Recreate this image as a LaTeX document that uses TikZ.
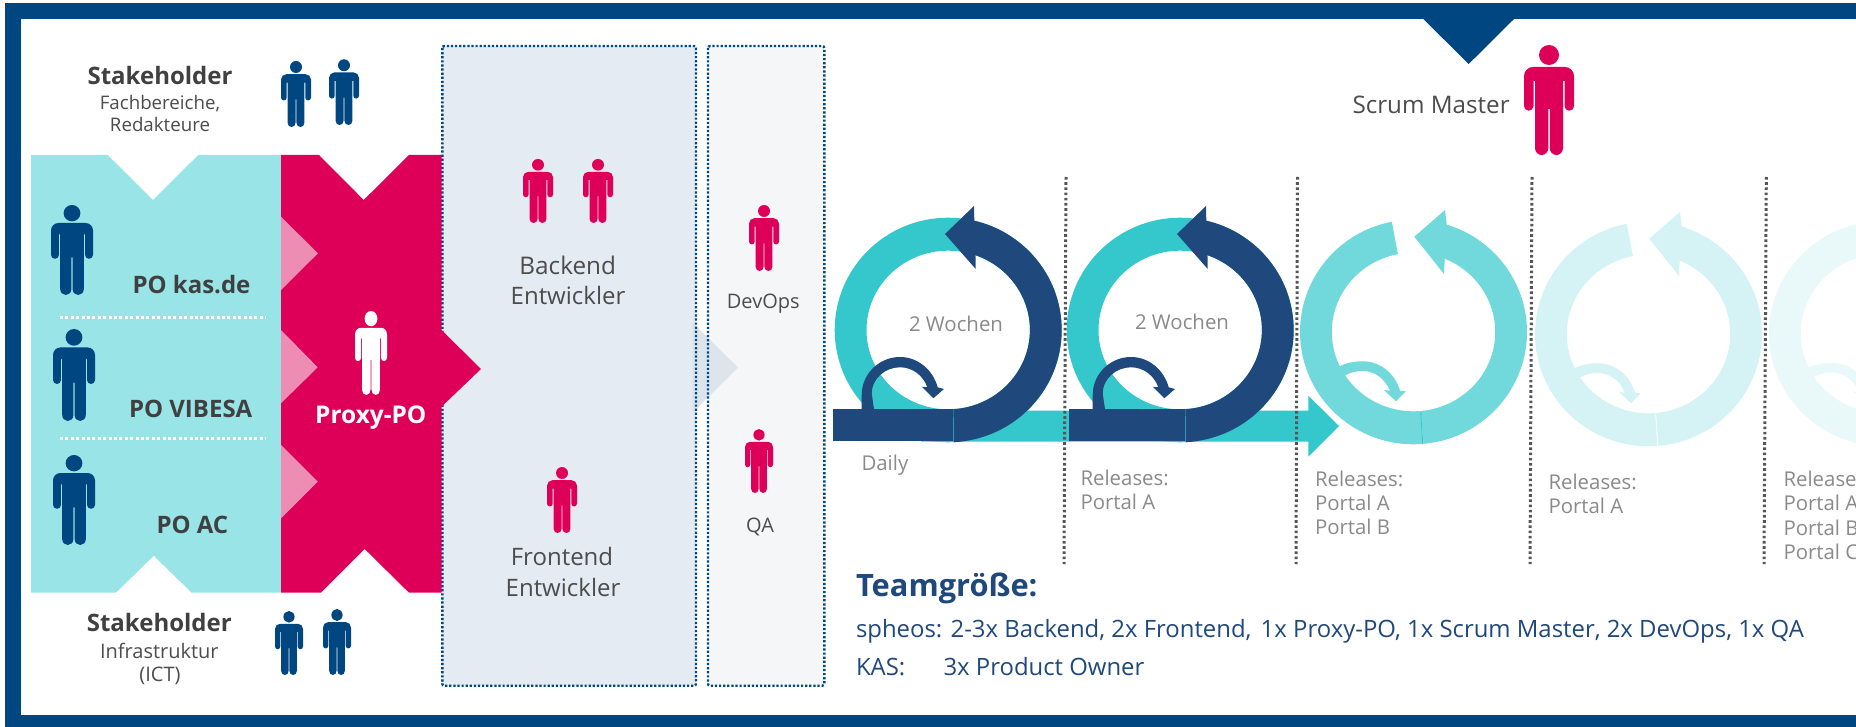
\documentclass[tikz,border=0pt]{standalone}
\usepackage{fontspec}
\setmainfont{Open Sans}
\definecolor{frame}{HTML}{004680}
\definecolor{navyarc}{HTML}{1F487C}
\definecolor{tealbox}{HTML}{98E4E6}
\definecolor{magent}{HTML}{DE0058}
\definecolor{pinkt}{HTML}{EE8DB3}
\definecolor{ringA}{HTML}{34C7CC}
\definecolor{ringB}{HTML}{71D9DB}
\definecolor{ringC}{HTML}{D5F3F4}
\definecolor{ringD}{HTML}{E9F8F9}
\definecolor{boxA}{HTML}{E4EBF2}
\definecolor{boxB}{HTML}{F4F6F8}
\definecolor{triA}{HTML}{DCE4EC}
\definecolor{darktext}{HTML}{404040}
\definecolor{midtext}{HTML}{4C4C4C}
\definecolor{greytext}{HTML}{8A8A8A}
\definecolor{dotline}{HTML}{555555}
\tikzset{
  txt/.style={inner sep=0pt,outer sep=0pt,anchor=base west},
  ctr/.style={inner sep=0pt,outer sep=0pt,anchor=base},
  headb/.style={ctr,text=darktext,font=\fontsize{24}{28}\selectfont\bfseries},
  subt/.style={ctr,text=midtext,font=\fontsize{18.7}{22}\selectfont},
  subl/.style={ctr,text=midtext,font=\fontsize{20}{24}\selectfont},
  pob/.style={txt,text=darktext,font=\fontsize{24}{28}\selectfont\bfseries},
  role/.style={ctr,text=midtext,font=\fontsize{24}{28}\selectfont},
  small/.style={ctr,text=midtext,font=\fontsize{20}{24}\selectfont},
  rel/.style={txt,text=greytext,font=\fontsize{20.4}{24}\selectfont},
  dotbox/.style={draw=frame,line width=2.4pt,dash pattern=on 2.2pt off 1.9pt,rounded corners=2pt},
  vline/.style={draw=dotline,line width=3pt,dash pattern=on 2.6pt off 2.6pt},
  wline/.style={draw=white,line width=3pt,dash pattern=on 3pt off 2.4pt},
  team/.style={txt,text=navyarc,font=\fontsize{23.9}{28}\selectfont},
}
% person icon: centre x, top y, bottom y, width, colour
\newcommand{\personicon}[5]{%
\begin{scope}[shift={(#1,#2)},xscale=#4/50,yscale=(#3-#2)/110]
\fill[#5] (0,10) circle [radius=10];
\fill[#5] (-15.5,36) -- (-15.5,61) .. controls (-15.5,63.6) and (-17.6,65.75) .. (-20.25,65.75)
 .. controls (-22.9,65.75) and (-25,63.6) .. (-25,61) -- (-25,31)
 .. controls (-25,26) and (-21,22) .. (-16,22) -- (16,22)
 .. controls (21,22) and (25,26) .. (25,31) -- (25,61)
 .. controls (25,63.6) and (22.9,65.75) .. (20.25,65.75)
 .. controls (17.6,65.75) and (15.5,63.6) .. (15.5,61) -- (15.5,36) -- (14,36) -- (14,103)
 .. controls (14,107) and (11,110) .. (7.4,110) .. controls (3.7,110) and (0.75,107) .. (0.75,103)
 -- (0.75,64) -- (-0.75,64) -- (-0.75,103)
 .. controls (-0.75,107) and (-3.7,110) .. (-7.4,110) .. controls (-11,110) and (-14,107) .. (-14,103)
 -- (-14,36) -- cycle;
\end{scope}}
% faded sprint ring: dx, dy, colour, seam colour
\newcommand{\fadedring}[4]{%
\begin{scope}[shift={(#1,#2)}]
\fill[#3] (1413.5,332) ++(85:113.5 and 112.3) arc[start angle=85,end angle=259,x radius=113.5,y radius=112.3]
 -- ([shift={(259:81.7 and 79.3)}]1413.5,332) arc[start angle=259,end angle=85,x radius=81.7,y radius=79.3] -- cycle;
\fill[#3] (1413.5,332) ++(85:113.5 and 112.3) arc[start angle=85,end angle=-73,x radius=113.5,y radius=112.3]
 -- (1445,210) -- (1414.3,236.7) -- (1444,274)
 -- ([shift={(-67.5:81.7 and 79.3)}]1413.5,332) arc[start angle=-67.5,end angle=85,x radius=81.7,y radius=79.3] -- cycle;
\draw[#4,line width=0.8pt] (1420.7,412) -- (1422.7,444.3);
\fill[#3] (1339.3,366.7) .. controls (1345,363) and (1354,361.3) .. (1362.7,361.3)
 .. controls (1381,361.3) and (1395,374) .. (1400,390.7) -- (1405.7,391.3) -- (1396,401.3) -- (1384,390) -- (1390,390.7)
 .. controls (1385,379) and (1375,371) .. (1362.7,371) .. controls (1356,371) and (1350,372.5) .. (1344.3,375.7) -- cycle;
\end{scope}}
% navy part of a full sprint ring: dx
\newcommand{\navyring}[1]{%
\begin{scope}[shift={(#1,0)}]
\fill[navyarc] (948.2,330) ++(87.3:113.5 and 112.3) arc[start angle=87.3,end angle=-76.7,x radius=113.5,y radius=112.3]
 -- (974,206) -- (945,234) -- (975.7,269)
 -- ([shift={(-70.5:81.7 and 79.3)}]948.2,330) arc[start angle=-70.5,end angle=86.3,x radius=81.7,y radius=79.3] -- cycle;
\end{scope}}
\newcommand{\dailyarrow}[1]{%
\begin{scope}[shift={(#1,0)}]
\fill[navyarc] (861.7,409.3) -- (861.7,395) .. controls (861.7,374) and (879,357) .. (900,357)
 .. controls (918,357) and (933,370) .. (937.7,387.3) -- (944,389) -- (933.3,398.3) -- (921.7,386.7) -- (927.3,387.3)
 .. controls (923,375) and (912,367.3) .. (900,367.3) .. controls (885,367.3) and (871.7,379) .. (871.7,393.3) -- (874,409.3) -- cycle;
\end{scope}}
\begin{document}
\begin{tikzpicture}[x=1pt,y=1pt,yscale=-1]
\useasboundingbox (0,0) rectangle (1856,727);
\clip (0,0) rectangle (1856,727);
% frame
\fill[frame] (5,3) rectangle (1856,19);
\fill[frame] (5,3) rectangle (21,727);
\fill[frame] (5,715) rectangle (1856,727);
\fill[frame] (1423.3,19) -- (1468.7,64) -- (1514,19) -- cycle;
% team boxes
\fill[boxA] (442.3,46) rectangle (696,685.7);
\fill[boxB] (708,46) rectangle (824.3,685.7);
\fill[triA] (692,322) -- (738,367.7) -- (692,413) -- cycle;
\draw[dotbox] (442.3,46) rectangle (696,685.7);
\draw[dotbox] (708,46) rectangle (824.3,685.7);
% PO block
\fill[tealbox] (31,155) -- (107.7,155) -- (153,200) -- (198.3,155) -- (281,155) -- (281,592.7)
 -- (191.7,592.7) -- (153.7,555.7) -- (116,592.7) -- (31,592.7) -- cycle;
\draw[wline] (60,318) -- (265.7,318);
\draw[wline] (60,438) -- (265.7,438);
% Proxy-PO block
\fill[magent] (281,155) -- (319,155) -- (363.7,200) -- (409,155) -- (441.5,155) -- (441.5,330) -- (481,369)
 -- (441.5,406.7) -- (441.5,592.7) -- (409,592.7) -- (364.7,549) -- (321,592.7) -- (281,592.7) -- cycle;
\fill[pinkt] (281,216.7) -- (318,253.3) -- (281,290) -- cycle;
\fill[pinkt] (281,330) -- (317.7,367.3) -- (281,403.3) -- cycle;
\fill[pinkt] (281,445) -- (317.7,481.7) -- (281,518.3) -- cycle;
% people
\personicon{296}{61}{127}{30}{frame}
\personicon{344}{59.3}{125}{30}{frame}
\personicon{72}{205}{295}{42}{frame}
\personicon{74}{329}{421}{42}{frame}
\personicon{74}{455}{545}{42}{frame}
\personicon{371}{311}{395}{32}{white}
\personicon{289}{611}{675}{28}{frame}
\personicon{337}{609}{675}{28}{frame}
\personicon{538}{159}{223}{30}{magent}
\personicon{598}{159}{223}{30}{magent}
\personicon{562}{467}{533}{30}{magent}
\personicon{764}{205}{271}{30}{magent}
\personicon{759}{429}{493}{28}{magent}
\personicon{1549}{45}{155}{50}{magent}
% rings
\fadedring{469}{1.5}{ringD}{white}
\fadedring{235}{2}{ringC}{white}
\fadedring{0}{0}{ringB}{ringA}
\fill[ringA,even odd rule] (948.2,330) ellipse [x radius=113.5,y radius=112.3] (948.2,330) ellipse [x radius=81.7,y radius=79.3];
\fill[ringA,even odd rule] (1180.2,330) ellipse [x radius=113.5,y radius=112.3] (1180.2,330) ellipse [x radius=81.7,y radius=79.3];
\fill[ringA] (921,410.5) -- (1308.3,410.5) -- (1308.3,395.7) -- (1339,426) -- (1308.3,456.7) -- (1308.3,441.5) -- (921,441.5) -- cycle;
\navyring{0}
\navyring{232}
\fill[navyarc] (833,409) rectangle (953.3,441);
\fill[navyarc] (1069,409) rectangle (1185.3,441);
\dailyarrow{0}
\dailyarrow{231}
% separators
\draw[vline] (1066,177) -- (1064,564);
\draw[vline] (1297.5,177) -- (1296,564);
\draw[vline] (1532,177) -- (1530,564);
\draw[vline] (1766.3,177) -- (1764,564);
% texts
\node[headb] (st1) at (160,85) {Stakeholder};
\node[subt] (st1a) at (160,109.3) {Fachbereiche,};
\node[subt] (st1b) at (160,131.3) {Redakteure};
\node[headb] (st2) at (159.3,631.7) {Stakeholder};
\node[subl] (st2a) at (159.3,658.3) {Infrastruktur};
\node[subl] (st2b) at (160,681.7) {(ICT)};
\node[pob] (po1) at (132.5,293.3) {PO kas.de};
\node[pob] (po2) at (129,417.7) {PO VIBESA};
\node[pob] (po3) at (156.5,533.7) {PO AC};
\node[pob,text=white,anchor=base,font=\fontsize{24.4}{28}\selectfont\bfseries] (proxy) at (370.8,423.3) {Proxy-PO};
\node[role,font=\fontsize{24.3}{28}\selectfont] (be1) at (567.7,275) {Backend};
\node[role] (be2) at (568,305) {Entwickler};
\node[role] (fe1) at (562,565) {Frontend};
\node[role] (fe2) at (563,596) {Entwickler};
\node[small] (devops) at (763.3,308.3) {DevOps};
\node[small] (qa) at (760,532.3) {QA};
\node[role,anchor=base west,font=\fontsize{24.2}{28}\selectfont] (sm) at (1352.5,113.3) {Scrum Master};
\node[rel] (w1) at (909,331.7) {2 Wochen};
\node[rel] (w2) at (1135,330) {2 Wochen};
\node[rel] (daily) at (861.5,470) {Daily};
\node[rel] (r1a) at (1080.5,485) {Releases:};
\node[rel] (r1b) at (1080.5,509) {Portal A};
\node[rel] (r2a) at (1315,486) {Releases:};
\node[rel] (r2b) at (1315,510) {Portal A};
\node[rel] (r2c) at (1315,534) {Portal B};
\node[rel] (r3a) at (1548.5,489.3) {Releases:};
\node[rel] (r3b) at (1548.5,513.3) {Portal A};
\node[rel] (r4a) at (1783.5,486.7) {Releases:};
\node[rel] (r4b) at (1783.5,510.7) {Portal A};
\node[rel] (r4c) at (1783.5,535) {Portal B};
\node[rel] (r4d) at (1783.5,559.3) {Portal C};
\node[txt,text=navyarc,font=\fontsize{30.8}{34}\selectfont\bfseries] (tg) at (856,596.7) {Teamgröße:};
\node[team] (t1) at (856,637.3) {spheos: 2-3x Backend, 2x Frontend,\hspace{3pt} 1x Proxy-PO, 1x Scrum Master, 2x DevOps, 1x QA};
\node[team] (t2a) at (856,675) {KAS:};
\node[team] (t2b) at (943.5,675) {3x Product Owner};
\end{tikzpicture}
\end{document}
